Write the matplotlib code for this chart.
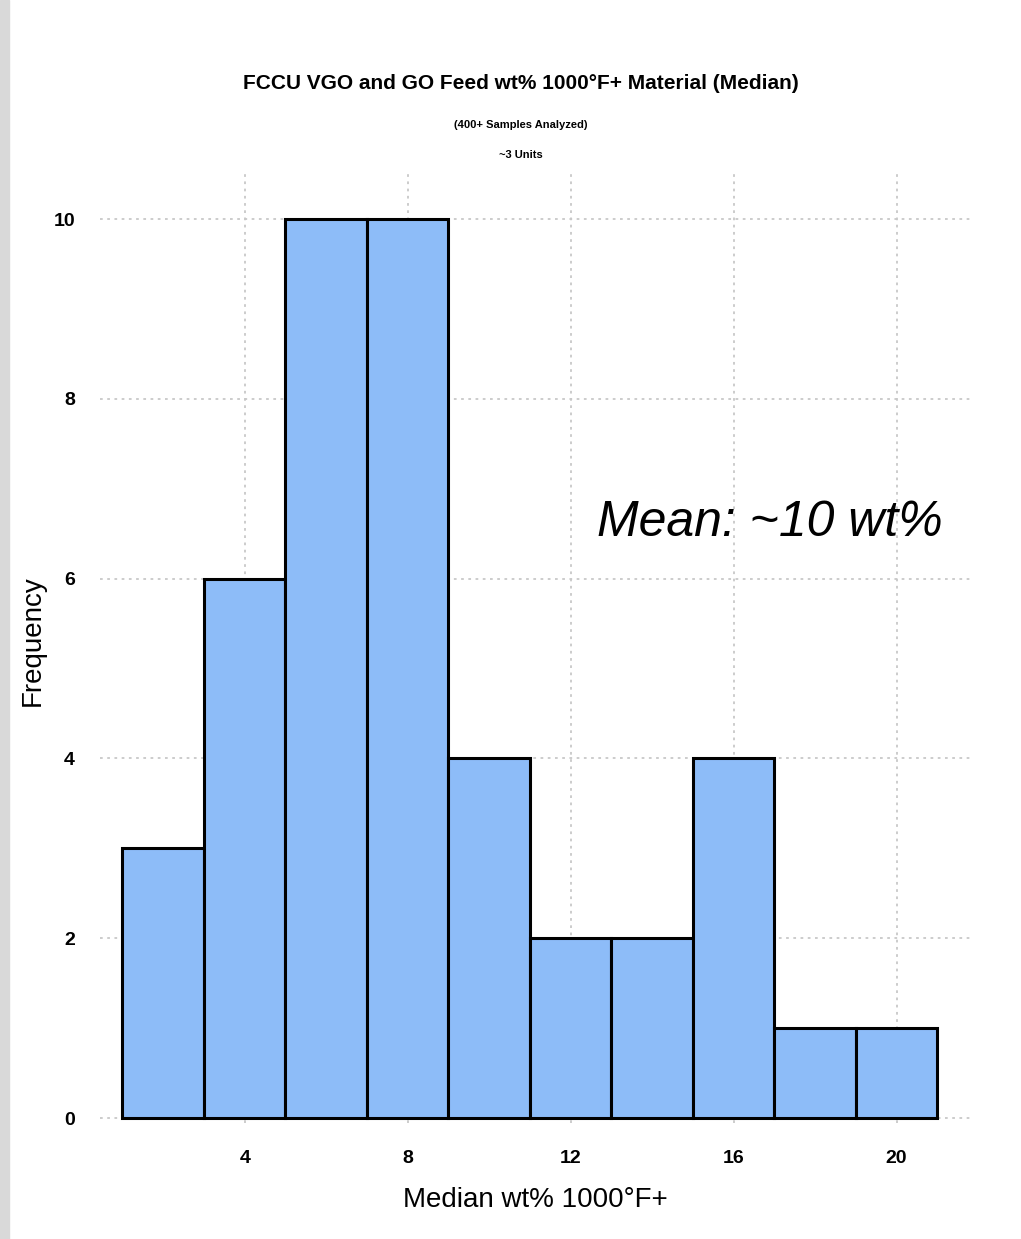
import matplotlib
matplotlib.use("Agg")
import matplotlib.pyplot as plt
import numpy as np

# Data
bin_edges = [1, 3, 5, 7, 9, 11, 13, 15, 17, 19, 21]
frequencies = [3, 6, 10, 10, 4, 2, 2, 4, 1, 1]
x_ticks = [4, 8, 12, 16, 20]
x_tick_labels = ["4", "8", "12", "16", "20"]
y_ticks = [0, 2, 4, 6, 8, 10]
title = "FCCU VGO and GO Feed wt% 1000°F+ Material (Median)"
subtitle1 = "(400+ Samples Analyzed)"
subtitle2 = "~3 Units"
annotation = "Mean: ~10 wt%"

fam = ["Liberation Sans", "DejaVu Sans"]

fig = plt.figure(figsize=(10.21, 12.39), dpi=100)
ax = fig.add_axes([0.098, 0.094, 0.852, 0.769])

lefts = np.array(bin_edges[:-1])
widths = np.diff(bin_edges)
ax.bar(lefts, frequencies, width=widths, align="edge", color="#8DBCF8",
       edgecolor="black", linewidth=2.2, zorder=3)

ax.set_xlim(0.45, 21.8)
ax.set_ylim(-0.05, 10.55)
ax.set_xticks(x_ticks)
ax.set_xticklabels(x_tick_labels)
ax.set_yticks(y_ticks)
for s in ax.spines.values():
    s.set_visible(False)
ax.tick_params(length=0, labelsize=14)
ax.tick_params(axis="x", pad=20)
ax.tick_params(axis="y", pad=18)
for lab in ax.get_xticklabels() + ax.get_yticklabels():
    lab.set_fontfamily(fam)
    lab.set_fontweight("bold")
ax.grid(True, color="#C8C8C8", linestyle=(0, (1.5, 2.5)), linewidth=1.3, zorder=0)

ax.set_xlabel("Median wt% 1000°F+", fontsize=20, family=fam, labelpad=14)
fig.text(0.032, 0.483, "Frequency", rotation=90, ha="center", va="center",
         fontsize=20, family=fam)

fig.text(0.51, 0.933, title, ha="center", va="center", fontsize=15,
         family=fam, fontweight="bold")
fig.text(0.51, 0.899, subtitle1, ha="center", va="center", fontsize=8,
         family=fam, fontweight="bold")
fig.text(0.51, 0.875, subtitle2, ha="center", va="center", fontsize=8,
         family=fam, fontweight="bold")

ax.text(16.9, 6.62, annotation, ha="center", va="center", fontsize=36,
        style="italic", family=fam)

# light gray frame on left edge
fig.patches.append(plt.Rectangle((0, 0), 0.009, 1, transform=fig.transFigure,
                                 color="#D9D9D9", zorder=0))

fig.savefig("out.png", dpi=100)
